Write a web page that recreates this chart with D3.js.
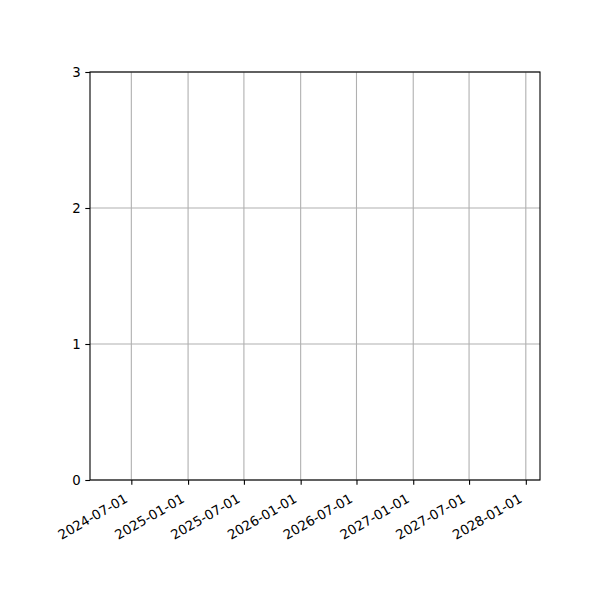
<!DOCTYPE html>
<html>
<head>
<meta charset="utf-8">
<script src="https://cdn.jsdelivr.net/npm/d3@7"></script>
<style>
  body { margin: 0; background: #fff; }
  text { font-family: "DejaVu Sans", sans-serif; font-size: 13.3px; fill: #000; }
</style>
</head>
<body>
<div id="chart"></div>
<script>
// axis extents and ticks (the plot itself holds no data)
const xDomain = ["2024-02-18", "2028-02-16"]
const xTicks = ["2024-07-01", "2025-01-01", "2025-07-01", "2026-01-01",
                "2026-07-01", "2027-01-01", "2027-07-01", "2028-01-01"]
const yDomain = [0, 3]
const yTicks = [0, 1, 2, 3]

const MARGIN = {LEFT: 90, RIGHT: 60, TOP: 72, BOTTOM: 120}
const WIDTH = 600 - MARGIN.LEFT - MARGIN.RIGHT
const HEIGHT = 600 - MARGIN.TOP - MARGIN.BOTTOM

const parse = d3.utcParse("%Y-%m-%d")
const fmt = d3.utcFormat("%Y-%m-%d")

const svg = d3.select("#chart").append("svg")
    .attr("width", 600)
    .attr("height", 600)

const g = svg.append("g")
    .attr("transform", `translate(${MARGIN.LEFT}, ${MARGIN.TOP})`)

const x = d3.scaleUtc().domain(xDomain.map(parse)).range([0, WIDTH])
const y = d3.scaleLinear().domain(yDomain).range([HEIGHT, 0])

// grid
g.append("g").selectAll("line.vx")
    .data(xTicks.map(parse))
    .join("line")
    .attr("x1", d => x(d)).attr("x2", d => x(d))
    .attr("y1", 0).attr("y2", HEIGHT)
    .attr("stroke", "#b0b0b0").attr("stroke-width", 1.1)

g.append("g").selectAll("line.hy")
    .data(yTicks)
    .join("line")
    .attr("x1", 0).attr("x2", WIDTH)
    .attr("y1", d => y(d)).attr("y2", d => y(d))
    .attr("stroke", "#b0b0b0").attr("stroke-width", 1.1)

// x axis
const xAxis = g.append("g")
    .attr("transform", `translate(0, ${HEIGHT})`)
    .call(d3.axisBottom(x).tickValues(xTicks.map(parse)).tickFormat(fmt)
        .tickSize(4.7).tickPadding(3.5))
xAxis.select(".domain").remove()
xAxis.selectAll("line").attr("stroke", "#000").attr("stroke-width", 1.1)
xAxis.selectAll("text")
    .attr("font-size", null).attr("font-family", null)
    .attr("text-anchor", "end")
    .attr("dy", "0.71em")
    .attr("transform", function () {
      const yy = +d3.select(this).attr("y")
      return `translate(-8, 5) rotate(-30, 0, ${yy})`
    })

// y axis
const yAxis = g.append("g")
    .call(d3.axisLeft(y).tickValues(yTicks).tickFormat(d3.format("d"))
        .tickSize(4.7).tickPadding(4.7))
yAxis.select(".domain").remove()
yAxis.selectAll("line").attr("stroke", "#000").attr("stroke-width", 1.1)
yAxis.selectAll("text").attr("font-size", null).attr("font-family", null)

// frame
g.append("rect")
    .attr("width", WIDTH).attr("height", HEIGHT)
    .attr("fill", "none").attr("stroke", "#000").attr("stroke-width", 1.1)
</script>
</body>
</html>
